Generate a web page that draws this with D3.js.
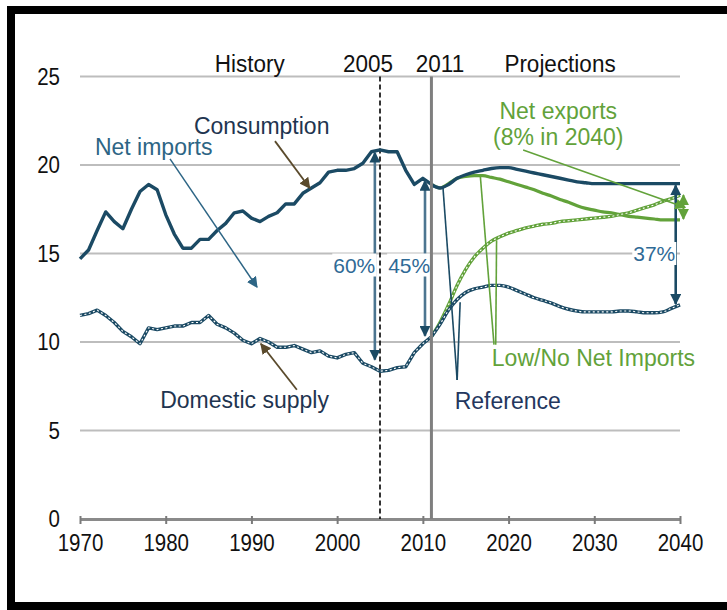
<!DOCTYPE html>
<html><head><meta charset="utf-8">
<script src="https://cdn.jsdelivr.net/npm/d3@7"></script>
<style>
html,body{margin:0;padding:0;background:#fff;}
svg{display:block;}
text{font-family:"Liberation Sans",Arial,sans-serif;}
</style></head>
<body>
<svg id="chart" width="727" height="610"></svg>
<script>
// ---------- data (million barrels per day) ----------
const histYears = d3.range(1970, 2012);
const consumptionHist = [14.7,15.2,16.3,17.35,16.8,16.4,17.5,18.5,18.9,18.6,17.2,16.1,15.3,15.3,15.8,15.8,16.3,16.7,17.3,17.4,17.0,16.8,17.1,17.3,17.8,17.8,18.4,18.7,19.0,19.6,19.7,19.7,19.8,20.1,20.75,20.85,20.75,20.75,19.7,18.9,19.25,18.9];
const domesticHist = [11.5,11.6,11.8,11.5,11.1,10.6,10.3,9.9,10.8,10.7,10.8,10.9,10.9,11.1,11.1,11.5,11.0,10.8,10.5,10.1,9.9,10.2,10.0,9.7,9.7,9.8,9.6,9.4,9.5,9.2,9.1,9.3,9.4,8.8,8.6,8.35,8.4,8.55,8.6,9.4,9.9,10.3];
const projYears = d3.range(2011, 2041);
const consumptionRef = [18.9,18.7,18.9,19.25,19.45,19.6,19.7,19.8,19.85,19.85,19.75,19.65,19.55,19.45,19.35,19.25,19.15,19.05,19.0,18.95,18.95,18.95,18.95,18.95,18.95,18.95,18.95,18.95,18.95,18.95];
const domesticRef = [10.3,11.0,11.8,12.4,12.8,13.0,13.1,13.2,13.2,13.1,12.9,12.7,12.5,12.35,12.2,12.0,11.85,11.75,11.7,11.7,11.7,11.7,11.75,11.75,11.7,11.65,11.65,11.7,11.9,12.1];
const consumptionLow = [18.9,18.7,18.95,19.25,19.35,19.4,19.4,19.3,19.2,19.05,18.9,18.75,18.6,18.4,18.25,18.05,17.9,17.7,17.55,17.45,17.35,17.3,17.2,17.1,17.05,17.0,16.95,16.9,16.9,16.9];
const domesticLow = [10.3,11.1,12.1,13.2,14.1,14.8,15.3,15.7,15.95,16.15,16.3,16.45,16.55,16.65,16.7,16.8,16.85,16.9,16.95,17.0,17.05,17.1,17.2,17.3,17.45,17.6,17.75,17.95,18.1,18.3];
const yTicks = [0,5,10,15,20,25];
const xTicks = [1970,1980,1990,2000,2010,2020,2030,2040];
const periodLabels = [["History",1989.8],["2005",2003.6],["2011",2012.0],["Projections",2026.0]];
const markerYears = [2005, 2011];
// share arrows: [label, year, top value, bottom value, label year, label value]
const shareArrows = [["60%",2004.4,20.7,9.0,2002.0,14.35],["45%",2010.25,19.1,10.35,2008.4,14.35],["37%",2039.5,18.85,12.15,2037.0,15.0]];

// ---------- layout ----------
const svg = d3.select("#chart");
const NAVY = "#1b4a64", GREEN = "#62a23a", STEEL = "#4c7590", BROWN = "#5a4a2c";
const x = d3.scaleLinear().domain([1970, 2040]).range([80, 680]);
const y = d3.scaleLinear().domain([0, 25]).range([519, 76.5]);

// frame
svg.append("rect").attr("x",11).attr("y",10).attr("width",800).attr("height",596)
  .attr("fill","none").attr("stroke","#000").attr("stroke-width",8);

// defs: arrowheads
const defs = svg.append("defs");
function marker(id, color, size){
  defs.append("marker").attr("id",id).attr("viewBox","0 0 10 10").attr("refX",9).attr("refY",5)
    .attr("markerWidth",size).attr("markerHeight",size).attr("orient","auto-start-reverse")
    .attr("markerUnits","userSpaceOnUse")
    .append("path").attr("d","M0,0L10,5L0,10z").attr("fill",color);
}
marker("aNavy", NAVY, 11);
marker("aBrown", BROWN, 11);
marker("aTeal", "#2d6585", 11);
marker("aGreen", GREEN, 11);

// gridlines
svg.append("g").selectAll("line").data(yTicks.filter(d=>d>0)).join("line")
  .attr("x1",x(1970)).attr("x2",x(2040)).attr("y1",d=>y(d)).attr("y2",d=>y(d))
  .attr("stroke","#bdbdbd").attr("stroke-width",2);

// y labels (slightly tall glyphs)
svg.append("g").selectAll("text").data(yTicks).join("text")
  .attr("transform",d=>`translate(60,${y(d)+8}) scale(1,1.18)`).attr("text-anchor","end")
  .attr("font-size",20.5).attr("fill","#111").text(d=>d);

// x axis
const xAxis = d3.axisBottom(x).tickValues(xTicks).tickFormat(d3.format("d")).tickSize(5).tickSizeOuter(0);
const gx = svg.append("g").attr("transform",`translate(0,${y(0)})`).call(xAxis);
gx.select(".domain").attr("stroke","#8a8a8a").attr("stroke-width",3);
gx.selectAll(".tick line").attr("stroke","#7a7a7a").attr("stroke-width",2).attr("y1",-3);
gx.selectAll(".tick text").attr("font-size",20.5).attr("fill","#111").attr("y",0).attr("dy",0)
  .attr("transform","translate(0,32) scale(1,1.18)")
  .attr("font-family","'Liberation Sans',Arial,sans-serif");

// vertical markers
svg.append("line").attr("x1",x(markerYears[0])).attr("x2",x(markerYears[0])).attr("y1",y(25)).attr("y2",y(0))
  .attr("stroke","#000").attr("stroke-width",1.6).attr("stroke-dasharray","5,3");

// period labels
svg.append("g").selectAll("text").data(periodLabels).join("text")
  .attr("transform",d=>`translate(${x(d[1])},72) scale(1,1.1)`).attr("text-anchor","middle")
  .attr("font-size",22.5).attr("fill","#111").text(d=>d[0]);

// lines
const line = d3.line().x(d=>x(d[0])).y(d=>y(d[1]));
const smooth = d3.line().x(d=>x(d[0])).y(d=>y(d[1])).curve(d3.curveMonotoneX);
const zipH = a => histYears.map((yr,i)=>[yr,a[i]]);
const zipP = a => projYears.map((yr,i)=>[yr,a[i]]);

function dotted(data, gen, color){
  svg.append("path").attr("d",gen(data)).attr("fill","none").attr("stroke",color).attr("stroke-width",3.4).attr("stroke-linejoin","round");
  svg.append("path").attr("d",gen(data)).attr("fill","none").attr("stroke","#fff").attr("stroke-width",1.1).attr("stroke-dasharray","2,2.5");
}
// green projections
svg.append("path").attr("d",smooth(zipP(consumptionLow))).attr("fill","none").attr("stroke",GREEN).attr("stroke-width",3.2);
dotted(zipP(domesticLow), smooth, GREEN);
// reference projections
svg.append("path").attr("d",smooth(zipP(consumptionRef))).attr("fill","none").attr("stroke",NAVY).attr("stroke-width",3.4);
dotted(zipP(domesticRef), smooth, NAVY);
// history
svg.append("path").attr("d",line(zipH(consumptionHist))).attr("fill","none").attr("stroke",NAVY).attr("stroke-width",3.4).attr("stroke-linejoin","round");
dotted(zipH(domesticHist), line, NAVY);

// share arrows with labels
shareArrows.forEach(([lab, yr, top, bot, ly, lv]) => {
  svg.append("line").attr("x1",x(yr)).attr("x2",x(yr)).attr("y1",y(top)).attr("y2",y(bot))
    .attr("stroke", lab==="37%" ? NAVY : STEEL).attr("stroke-width",2.6)
    .attr("marker-start","url(#aNavy)").attr("marker-end","url(#aNavy)");
  const t = svg.append("text").attr("x",x(ly)).attr("y",y(lv)+7.5).attr("text-anchor","middle")
    .attr("font-size",21).attr("fill","#2f6a96").text(lab);
  const bb = t.node().getBBox();
  svg.insert("rect", () => t.node()).attr("x",bb.x-1).attr("y",bb.y).attr("width",bb.width+2).attr("height",bb.height).attr("fill","#fff");
});

// 2011 marker drawn above label boxes
svg.append("line").attr("x1",x(markerYears[1])).attr("x2",x(markerYears[1])).attr("y1",y(25)).attr("y2",y(0))
  .attr("stroke","#7f7f7f").attr("stroke-width",3);

// net exports double arrow
svg.append("line").attr("x1",x(2040.4)).attr("x2",x(2040.4)).attr("y1",y(18.3)).attr("y2",y(16.95))
  .attr("stroke",GREEN).attr("stroke-width",2).attr("marker-start","url(#aGreen)").attr("marker-end","url(#aGreen)");

// annotations
function ann(txt, yr, v, color, size){
  svg.append("text").attr("x",x(yr)).attr("y",y(v)).attr("text-anchor","middle")
    .attr("font-size",size||23).attr("fill",color).text(txt);
}
function lead(p1, p2, color, w, mk){
  const l = svg.append("line").attr("x1",x(p1[0])).attr("y1",y(p1[1])).attr("x2",x(p2[0])).attr("y2",y(p2[1]))
    .attr("stroke",color).attr("stroke-width",w);
  if (mk) l.attr("marker-end",`url(#${mk})`);
}
ann("Consumption", 1991.2, 21.75, "#1f3550");
lead([1992.75, 21.35], [1996.8, 18.7], BROWN, 1.8, "aBrown");
ann("Net imports", 1978.6, 20.55, "#2d6585");
lead([1980.5, 20.35], [1990.65, 13.1], "#2d6585", 1.5, "aTeal");
ann("Domestic supply", 1989.2, 6.27, "#1f3550");
lead([1995.3, 7.3], [1991.1, 9.9], BROWN, 1.8, "aBrown");
ann("Reference", 2019.9, 6.2, "#24375e");
lead([2014.0, 7.85], [2012.35, 18.7], NAVY, 1.6);
lead([2014.0, 7.85], [2014.35, 12.25], NAVY, 1.6);
ann("Low/No Net Imports", 2029.9, 8.65, GREEN);
lead([2018.3, 9.85], [2016.7, 19.4], GREEN, 1.6);
lead([2018.5, 9.85], [2018.6, 15.75], GREEN, 1.6);
ann("Net exports", 2025.8, 22.6, GREEN);
ann("(8% in 2040)", 2025.8, 21.15, GREEN);
lead([2021.7, 20.85], [2040.6, 17.6], GREEN, 1.5, "aGreen");
</script>
</body></html>
